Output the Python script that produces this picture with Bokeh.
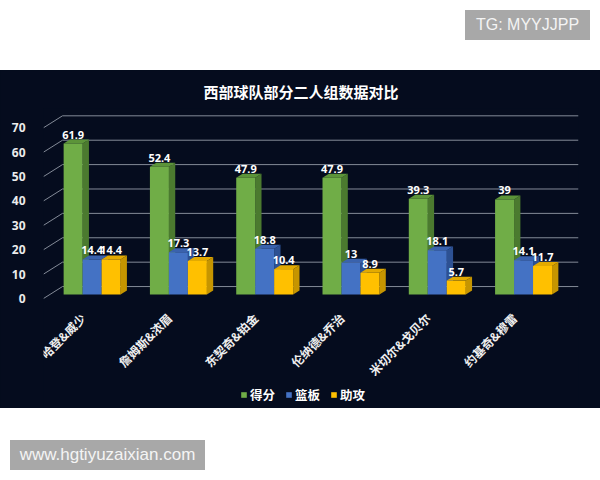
from math import pi
from bokeh.plotting import figure
from bokeh.layouts import column
from bokeh.models import Div, Range1d, FixedTicker, Legend, LegendItem
from bokeh.core.properties import value
from bokeh.embed import file_html
from bokeh.resources import INLINE

# data
pairs = ["哈登&威少", "詹姆斯&浓眉", "东契奇&铂金", "伦纳德&乔治", "米切尔&戈贝尔", "约基奇&穆雷"]
points = [61.9, 52.4, 47.9, 47.9, 39.3, 39]
rebounds = [14.4, 17.3, 18.8, 13, 18.1, 14.1]
assists = [14.4, 13.7, 10.4, 8.9, 5.7, 11.7]
series_names = ["得分", "篮板", "助攻"]
y_ticks = [0, 10, 20, 30, 40, 50, 60, 70]

bg = "#050c1e"
grid_col = "#848b98"
cjk = "Noto Sans CJK SC"

# 3d look: front / side / top colours per series
colors = [("#70ad47", "#4b7a2f", "#5c9439"),
          ("#4472c4", "#2d5193", "#3a62ad"),
          ("#ffc000", "#c69500", "#e3aa00")]

x_lo, x_hi = -0.49, 5.71
DX, DY = 0.22, 4.9          # depth of the back wall
bx, by = DX / 3, DY / 3     # bars sit in the middle third
w = 0.22
offsets = [-w, 0, w]

# frame runs down to the bottom of the dark panel, category names and legend live inside it
p = figure(width=600, height=338, x_range=Range1d(x_lo, x_hi), y_range=Range1d(-45.1, 77.9),
           output_backend="svg", toolbar_location=None, x_axis_location=None,
           background_fill_color=bg, border_fill_color=bg, outline_line_color=None,
           min_border_left=43, min_border_right=22, min_border_top=38, min_border_bottom=0,
           styles={"background-color": bg})

p.title.text = "西部球队部分二人组数据对比"
p.title.align = "left"
p.title.offset = 160
p.title.standoff = 13
p.title.text_color = "white"
p.title.text_font = cjk
p.title.text_font_size = "15px"
p.title.text_font_style = "bold"

p.xgrid.visible = False
p.ygrid.visible = False

# back wall grid lines and the slanted lines to the axis
p.segment(x0=[x_lo + DX] * len(y_ticks), y0=[t + DY for t in y_ticks],
          x1=[x_hi] * len(y_ticks), y1=[t + DY for t in y_ticks],
          line_color=grid_col, line_width=1)
p.segment(x0=[x_lo] * len(y_ticks), y0=y_ticks,
          x1=[x_lo + DX] * len(y_ticks), y1=[t + DY for t in y_ticks],
          line_color=grid_col, line_width=1)

items = []
for s, vals in enumerate([points, rebounds, assists]):
    front, side, top = colors[s]
    L = [i + offsets[s] - w / 2 + bx for i in range(len(vals))]
    R = [l + w for l in L]
    T = [v + by for v in vals]
    side_xs = [[r, r + bx, r + bx, r] for r in R]
    side_ys = [[by, 2 * by, t + by, t] for t in T]
    top_xs = [[l, r, r + bx, l + bx] for l, r in zip(L, R)]
    top_ys = [[t, t, t + by, t + by] for t in T]
    p.patches(side_xs, side_ys, fill_color=side, line_color=None)
    p.patches(top_xs, top_ys, fill_color=top, line_color=None)
    r = p.quad(left=L, right=R, bottom=[by] * len(vals), top=T,
               fill_color=front, line_color=None)
    items.append(LegendItem(label=series_names[s], renderers=[r]))
    p.text(x=[l + w / 2 for l in L], y=[t + by for t in T], text=[f"{v:g}" for v in vals],
           text_align="center", text_baseline="bottom", y_offset=-1,
           text_color="white", text_font=value("Noto Sans"), text_font_style="bold",
           text_font_size="11px")

# category names, slanted like the original
p.text(x=list(range(len(pairs))), y=[0] * len(pairs), text=pairs, angle=pi / 4,
       text_align="right", text_baseline="middle", x_offset=-3, y_offset=17,
       text_color="#f0f0f0", text_font=value(cjk), text_font_style="bold",
       text_font_size="12px")

p.yaxis.ticker = FixedTicker(ticks=y_ticks)
p.yaxis.axis_line_color = None
p.yaxis.major_tick_line_color = None
p.yaxis.minor_tick_line_color = None
p.yaxis.major_label_standoff = 12
p.yaxis.major_label_text_color = "#ececec"
p.yaxis.major_label_text_font = "Noto Sans"
p.yaxis.major_label_text_font_style = "bold"
p.yaxis.major_label_text_font_size = "12px"

legend = Legend(items=items, orientation="horizontal", location=(197, 4),
                background_fill_alpha=0, border_line_color=None,
                label_text_color="white", label_text_font=cjk,
                label_text_font_style="bold", label_text_font_size="12.5px",
                glyph_width=7, glyph_height=7, label_standoff=3, spacing=10,
                label_height=14, padding=0, margin=0)
p.add_layout(legend)

box = ("background:#a8a8a8;color:#f4f4f4;font-family:'Liberation Sans',Arial,sans-serif;"
       "height:30px;line-height:30px;text-align:center;")
top_div = Div(text=f'<div style="padding:10px 0 0 465px"><div style="{box}width:125px;font-size:16px">'
                   'TG: MYYJJPP</div></div>', width=600, height=70, margin=0)
bottom_div = Div(text=f'<div style="padding:32px 0 0 10px"><div style="{box}width:195px;font-size:17px">'
                      'www.hgtiyuzaixian.com</div></div>', width=600, height=72, margin=0)

layout = column(top_div, p, bottom_div, spacing=0)
open("out.html", "w").write(file_html(layout, INLINE))
